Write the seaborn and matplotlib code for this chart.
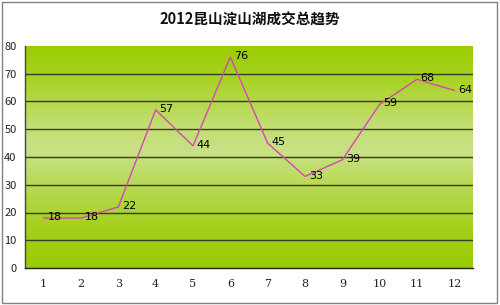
import matplotlib
matplotlib.use("Agg")
import matplotlib.pyplot as plt
import seaborn as sns
import numpy as np
import pandas as pd
from matplotlib.colors import LinearSegmentedColormap
from matplotlib.patches import Rectangle

months = [1, 2, 3, 4, 5, 6, 7, 8, 9, 10, 11, 12]
volumes = [18, 18, 22, 57, 44, 76, 45, 33, 39, 59, 68, 64]
y_ticks = [0, 10, 20, 30, 40, 50, 60, 70, 80]
title = "2012昆山淀山湖成交总趋势"

sns.set_theme(style="white")
plt.rcParams['font.family'] = ['Noto Sans CJK SC', 'DejaVu Sans']

df = pd.DataFrame({"month": months, "volume": volumes})

fig = plt.figure(figsize=(5.0, 3.05), dpi=100)
ax = fig.add_axes([25/500, 1 - 268/305, (473-25)/500, (268-46)/305])

# gradient background
cmap = LinearSegmentedColormap.from_list(
    "g", [(0.0, "#99cc00"), (0.18, "#a3d01c"), (0.52, "#c8e184"),
          (0.64, "#c2de74"), (0.86, "#a6d21f"), (1.0, "#99cc00")])
grad = np.linspace(0, 1, 256).reshape(-1, 1)
ax.imshow(grad, extent=[0.5, 12.5, 0, 80], aspect='auto', cmap=cmap,
          origin='lower', zorder=0)

for yv in y_ticks[1:-1]:
    ax.axhline(yv, color="#3a3a2a", lw=1.0, zorder=1)

sns.lineplot(data=df, x="month", y="volume", ax=ax, color="#d646b4",
             lw=1.0, zorder=3)

for m, v in zip(months, volumes):
    ax.text(m + 0.1, v + 0.3, str(v), fontsize=8, color="black",
            ha="left", va="center", family=['DejaVu Sans'], zorder=4)

ax.set_xlim(0.5, 12.5)
ax.set_ylim(0, 80)
ax.set_yticks(y_ticks)
ax.set_yticklabels([str(t) for t in y_ticks], fontsize=8, color="#222222")
ax.set_xticks(months)
ax.set_xticklabels([str(m) for m in months], fontsize=8, color="#222222",
                   family=['DejaVu Serif'])
ax.tick_params(axis='x', length=0, pad=8)
ax.tick_params(axis='y', length=0, pad=6)
ax.set_xticks(np.arange(1.5, 12.5, 1), minor=True)
ax.tick_params(axis='x', which='minor', direction='in', length=3, color="#333333")
ax.set_xlabel("")
ax.set_ylabel("")
for s in ax.spines.values():
    s.set_visible(False)
ax.spines['left'].set_visible(True)
ax.spines['left'].set_color("#444444")
ax.spines['left'].set_linewidth(1.0)
ax.spines['bottom'].set_visible(True)
ax.spines['bottom'].set_color("#222222")
ax.spines['bottom'].set_linewidth(1.0)

fig.text(0.5, 1 - 20/305, title, ha="center", va="center", fontsize=10.5,
         fontweight="bold", color="#111111")

fig.patches.append(Rectangle((2/500, 2/305), 495/500, 301/305,
                             transform=fig.transFigure, fill=False,
                             edgecolor="#808080", lw=1.0))

fig.savefig("out.png", dpi=100)
